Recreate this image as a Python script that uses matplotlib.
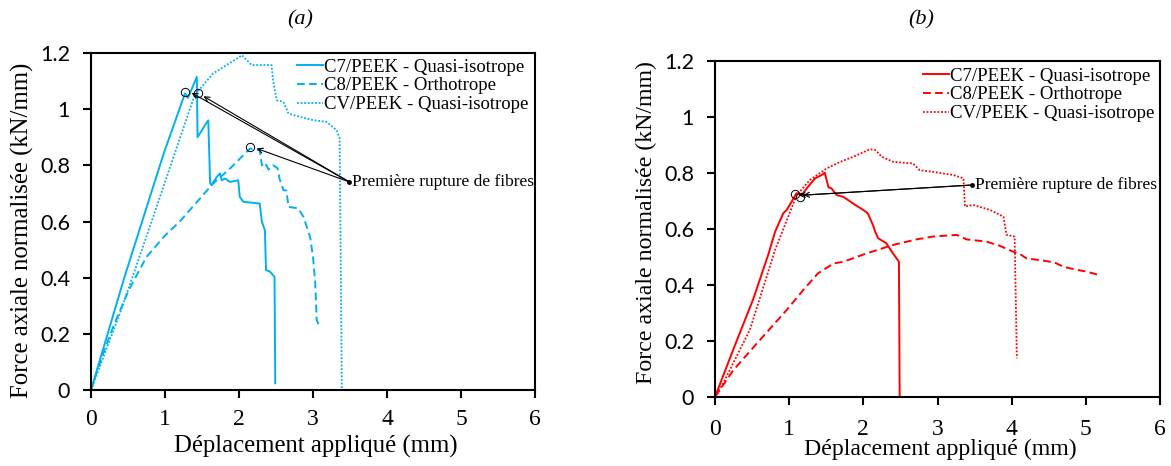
import matplotlib
matplotlib.use("Agg")
import matplotlib.pyplot as plt

# ---------------- data ----------------
# Panel (a)
a_c7_x = [0, 0.45, 0.98, 1.27, 1.31, 1.43, 1.44, 1.54, 1.585, 1.61, 1.63, 1.70, 1.743, 1.766, 1.81, 1.88, 1.99,
          2.01, 2.06, 2.28, 2.31, 2.35, 2.365, 2.42, 2.48, 2.49]
a_c7_y = [0, 0.40, 0.84, 1.056, 1.04, 1.115, 0.90, 0.943, 0.96, 0.735, 0.73, 0.759, 0.771, 0.747, 0.753, 0.741, 0.747,
          0.688, 0.670, 0.664, 0.599, 0.569, 0.427, 0.421, 0.403, 0.024]
a_c8_x = [0, 0.15, 0.30, 0.50, 0.75, 1.00, 1.20, 1.45, 1.65, 1.88, 2.15, 2.28, 2.31, 2.35, 2.40, 2.46, 2.52, 2.55,
          2.60, 2.64, 2.67, 2.80, 2.87, 2.96, 3.00, 3.03, 3.05, 3.09]
a_c8_y = [0, 0.12, 0.225, 0.35, 0.474, 0.55, 0.60, 0.675, 0.735, 0.789, 0.86, 0.854, 0.80, 0.81, 0.785, 0.80, 0.79,
          0.75, 0.712, 0.71, 0.652, 0.647, 0.617, 0.546, 0.474, 0.38, 0.249, 0.225]
a_cv_x = [0, 0.40, 0.78, 1.40, 1.65, 1.79, 1.97, 2.04, 2.17, 2.28, 2.44, 2.46, 2.51, 2.60, 2.67, 2.82, 3.00, 3.18,
          3.32, 3.36, 3.39]
a_cv_y = [0, 0.28, 0.57, 1.05, 1.127, 1.15, 1.18, 1.192, 1.157, 1.157, 1.157, 1.103, 1.032, 1.026, 0.984, 0.973,
          0.961, 0.955, 0.925, 0.896, 0.0]
a_circ_x = [1.27, 1.44, 2.15]
a_circ_y = [1.062, 1.056, 0.864]
a_tip_x = [1.36, 1.52, 2.24]
a_tip_y = [1.058, 1.046, 0.860]
a_note = (3.49, 0.741)

# Panel (b)
b_c7_x = [0, 0.247, 0.516, 0.72, 0.81, 0.92, 0.967, 1.10, 1.17, 1.236, 1.35, 1.44, 1.48, 1.53, 1.57, 1.64, 1.73,
          1.89, 2.00, 2.06, 2.13, 2.16, 2.20, 2.31, 2.40, 2.48, 2.49]
b_c7_y = [0, 0.17, 0.35, 0.51, 0.59, 0.656, 0.668, 0.728, 0.721, 0.745, 0.781, 0.793, 0.801, 0.749, 0.745,
          0.721, 0.715, 0.686, 0.668, 0.656, 0.614, 0.59, 0.567, 0.549, 0.513, 0.483, 0.0]
b_c8_x = [0, 0.247, 0.607, 0.967, 1.20, 1.39, 1.60, 1.73, 2.045, 2.40, 2.72, 2.94, 3.26, 3.39, 3.66, 3.84, 4.02,
          4.11, 4.20, 4.43, 4.58, 4.70, 4.88, 5.01, 5.17]
b_c8_y = [0, 0.096, 0.204, 0.311, 0.385, 0.442, 0.477, 0.483, 0.513, 0.543, 0.563, 0.573, 0.579, 0.563, 0.555,
          0.540, 0.519, 0.511, 0.495, 0.487, 0.48, 0.465, 0.454, 0.448, 0.436]
b_cv_x = [0, 0.11, 0.47, 0.81, 1.10, 1.28, 1.51, 1.69, 1.865, 2.09, 2.16, 2.25, 2.40, 2.67, 2.76, 2.94, 3.21,
          3.35, 3.37, 3.48, 3.71, 3.89, 3.93, 4.04, 4.07]
b_cv_y = [0, 0.049, 0.24, 0.525, 0.72, 0.775, 0.817, 0.84, 0.858, 0.885, 0.882, 0.858, 0.84, 0.834, 0.81, 0.804,
          0.793, 0.781, 0.68, 0.686, 0.668, 0.644, 0.579, 0.573, 0.138]
b_circ_x = [1.08, 1.15]
b_circ_y = [0.724, 0.716]
b_tip_x = [1.13, 1.19]
b_tip_y = [0.720, 0.721]
b_note = (3.46, 0.757)

labels = ["C7/PEEK - Quasi-isotrope", "C8/PEEK - Orthotrope", "CV/PEEK - Quasi-isotrope"]
x_ticks = [0, 1, 2, 3, 4, 5, 6]
y_ticks = [0, 0.2, 0.4, 0.6, 0.8, 1.0, 1.2]
y_ticklabels = ["0", "0.2", "0.4", "0.6", "0.8", "1", "1.2"]
note_text = "Première rupture de fibres"
xlabel = "Déplacement appliqué (mm)"
ylabel = "Force axiale normalisée (kN/mm)"

# ---------------- figure ----------------
W, H = 1171, 466
fig = plt.figure(figsize=(W / 100, H / 100), dpi=100)
SERIF = "Liberation Serif"
SANS = "Lato"


def px_axes(x0, x1, top, bottom):
    return [x0 / W, (H - bottom) / H, (x1 - x0) / W, (bottom - top) / H]


ax_a = fig.add_axes(px_axes(91, 535, 53, 390))
ax_b = fig.add_axes(px_axes(715, 1160, 61, 397))

DOT = (0, (1, 1))
DASH = (0, (4, 2.2))


def setup(ax, color, c7, c8, cv, circ, tips, note, leg_anchor, xl_pos, yl_pos, xtpad, lab_fs):
    ax.plot(*c7, color=color, lw=1.4, ls="-", label=labels[0])
    ax.plot(*c8, color=color, lw=1.4, ls=DASH, label=labels[1])
    ax.plot(*cv, color=color, lw=1.3, ls=DOT, label=labels[2])
    ax.plot(circ[0], circ[1], ls="none", marker="o", ms=6, mfc="none", mec="black", mew=0.7)
    for tx, ty in zip(*tips):
        ax.annotate("", xy=(tx, ty), xytext=note, xycoords="data",
                    arrowprops=dict(arrowstyle="->", color="black", lw=0.8,
                                    shrinkA=0, shrinkB=0, mutation_scale=9))
    ax.plot([note[0]], [note[1]], marker="o", ms=2.5, color="black")
    ax.text(note[0] + 0.04, note[1], note_text, fontfamily=SERIF, fontsize=12.5,
            va="center", ha="left")
    ax.set_xlim(0, 6)
    ax.set_ylim(0, 1.2)
    ax.set_xticks(x_ticks)
    ax.set_xticklabels([str(t) for t in x_ticks], fontfamily=SERIF, fontsize=17)
    ax.set_yticks(y_ticks)
    ax.set_yticklabels(y_ticklabels, fontfamily=SANS, fontsize=15.5)
    ax.tick_params(axis="x", direction="out", length=6, width=1.5, pad=xtpad)
    ax.tick_params(axis="y", direction="out", length=6, width=1.5, pad=9)
    for s in ax.spines.values():
        s.set_linewidth(1.5)
        s.set_color("black")
    ax.set_xlabel(xlabel, fontfamily=SERIF, fontsize=lab_fs)
    ax.set_ylabel(ylabel, fontfamily=SERIF, fontsize=lab_fs)
    ax.xaxis.set_label_coords(*xl_pos)
    ax.yaxis.set_label_coords(*yl_pos)
    leg = ax.legend(loc="upper left", bbox_to_anchor=leg_anchor, frameon=False,
                    prop=dict(family=SERIF, size=13.5), handlelength=1.4,
                    handletextpad=0.05, labelspacing=0.09, borderpad=0,
                    borderaxespad=0)
    return leg


setup(ax_a, "#00B0F0", (a_c7_x, a_c7_y), (a_c8_x, a_c8_y), (a_cv_x, a_cv_y),
      (a_circ_x, a_circ_y), (a_tip_x, a_tip_y), a_note,
      leg_anchor=(0.464, 0.984), xl_pos=(0.507, -0.134), yl_pos=(-0.128, 0.475), xtpad=8,
      lab_fs=17.8)
setup(ax_b, "#FF0000", (b_c7_x, b_c7_y), (b_c8_x, b_c8_y), (b_cv_x, b_cv_y),
      (b_circ_x, b_circ_y), (b_tip_x, b_tip_y), b_note,
      leg_anchor=(0.467, 0.981), xl_pos=(0.507, -0.124), yl_pos=(-0.130, 0.518), xtpad=10,
      lab_fs=17.2)

fig.text(300 / W, 1 - 20 / H, "(a)", fontfamily=SERIF, fontstyle="italic", fontsize=16,
         ha="center", va="center")
fig.text(921 / W, 1 - 20 / H, "(b)", fontfamily=SERIF, fontstyle="italic", fontsize=16,
         ha="center", va="center")

fig.savefig("out.png", dpi=100)
